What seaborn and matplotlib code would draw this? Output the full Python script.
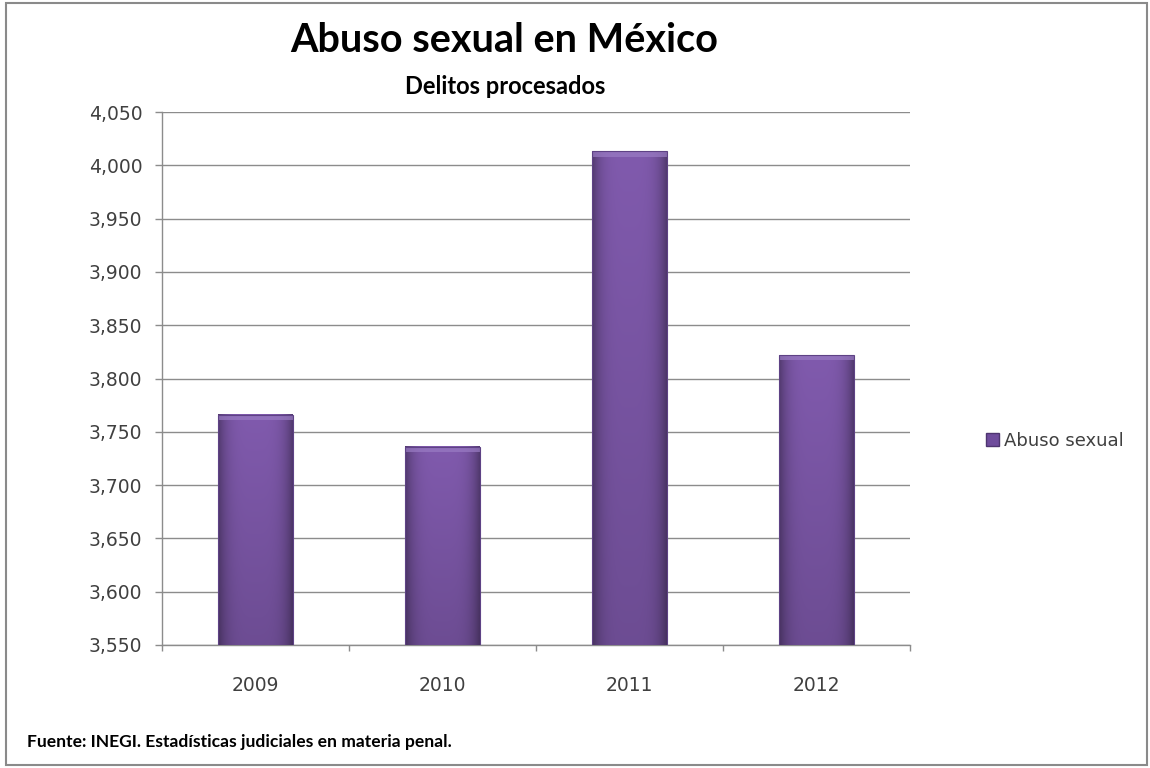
import numpy as np
import pandas as pd
import matplotlib
matplotlib.use("Agg")
import matplotlib.pyplot as plt
import seaborn as sns
from matplotlib.ticker import FuncFormatter, MultipleLocator, FixedLocator
from matplotlib.patches import Rectangle

# ---- data ----
years = ["2009", "2010", "2011", "2012"]
values = [3766, 3736, 4013, 3822]
series_name = "Abuso sexual"
title = "Abuso sexual en México"
subtitle = "Delitos procesados"
source = "Fuente: INEGI. Estadísticas judiciales en materia penal."

sns.set_theme(style="white")
plt.rcParams['font.family'] = ['DejaVu Sans']

df = pd.DataFrame({"year": years, "value": values})

fig = plt.figure(figsize=(11.5, 7.68), dpi=100)
ax = fig.add_axes([162/1150, 1-645/768, (910-162)/1150, (645-112)/768])

sns.barplot(data=df, x="year", y="value", color="#7b55a6", width=0.4,
            saturation=1, ax=ax, zorder=3)

YMIN, YMAX = 3550, 4050
ax.set_ylim(YMIN, YMAX)
ax.yaxis.set_major_locator(MultipleLocator(50))
ax.yaxis.set_major_formatter(FuncFormatter(lambda v, p: f"{int(v):,}"))
ax.set_xlim(-0.5, len(years) - 0.5)
ax.set_xlabel("")
ax.set_ylabel("")

# gridlines
ax.yaxis.grid(True, color="#8c8c8c", linewidth=1.0, zorder=0)
ax.set_axisbelow(True)

for s in ["top", "right"]:
    ax.spines[s].set_visible(False)
for s in ["left", "bottom"]:
    ax.spines[s].set_color("#8c8c8c")
    ax.spines[s].set_linewidth(1.0)

ax.tick_params(axis="y", which="major", left=True, length=5, width=1,
               color="#8c8c8c", labelsize=13.5, labelcolor="#404040", pad=9)
ax.tick_params(axis="x", which="major", bottom=False, labelsize=13.5,
               labelcolor="#404040", pad=16)
ax.xaxis.set_minor_locator(FixedLocator(np.arange(-0.5, len(years), 1.0)))
ax.tick_params(axis="x", which="minor", bottom=True, length=4.5, width=1,
               color="#8c8c8c")

# gradient fill on bars (drawn inside the visible part of each bar)
grad_h = np.linspace(-1, 1, 64)
hor = 1 - 0.35 * grad_h**4
ver = np.linspace(0.85, 1.0, 64)[:, None]
base = np.array([0x80, 0x5a, 0xad]) / 255.0
shade = np.clip((ver * hor[None, :])[..., None] * base[None, None, :], 0, 1)
for bar in list(ax.patches):
    x0 = bar.get_x()
    w = bar.get_width()
    top = bar.get_y() + bar.get_height()
    bottom = YMIN
    ax.imshow(shade, extent=[x0, x0 + w, bottom, top], origin="lower",
              aspect="auto", zorder=4, interpolation="bilinear")
    bar.set_edgecolor("#5e4285")
    bar.set_linewidth(0.8)
    bar.set_zorder(5)
    bar.set_facecolor("none")
    # top bevel highlight
    ax.add_patch(Rectangle((x0, top - 5), w, 5, facecolor="#9a7cc4",
                           edgecolor="none", zorder=4.5, alpha=0.7))
ax.set_xlim(-0.5, len(years) - 0.5)
ax.set_ylim(YMIN, YMAX)

# titles
fig.text(504/1150, 1-40/768, title, ha="center", va="center",
         fontsize=28.5, fontweight="bold", family="Lato", color="black")
fig.text(505/1150, 1-86/768, subtitle, ha="center", va="center",
         fontsize=17, fontweight="bold", family="Lato", color="black")
fig.text(27/1150, 1-742/768, source, ha="left", va="center",
         fontsize=12.6, fontweight="bold", family="Lato", color="black")

# legend
handle = Rectangle((0, 0), 1, 1, facecolor="#6f4c9c", edgecolor="#4e3570")
fig.legend([handle], [series_name], loc="center left",
           bbox_to_anchor=(970/1150, 1-441/768), frameon=False,
           handlelength=0.7, handleheight=0.7, handletextpad=0.3,
           fontsize=13, labelcolor="#404040")

# outer border
fig.patches.append(Rectangle((6/1150, 3/768), 1141/1150, 762/768,
                             transform=fig.transFigure, fill=False,
                             edgecolor="#8a8a8a", linewidth=1.5))

fig.savefig("out.png", dpi=100, facecolor="white")
